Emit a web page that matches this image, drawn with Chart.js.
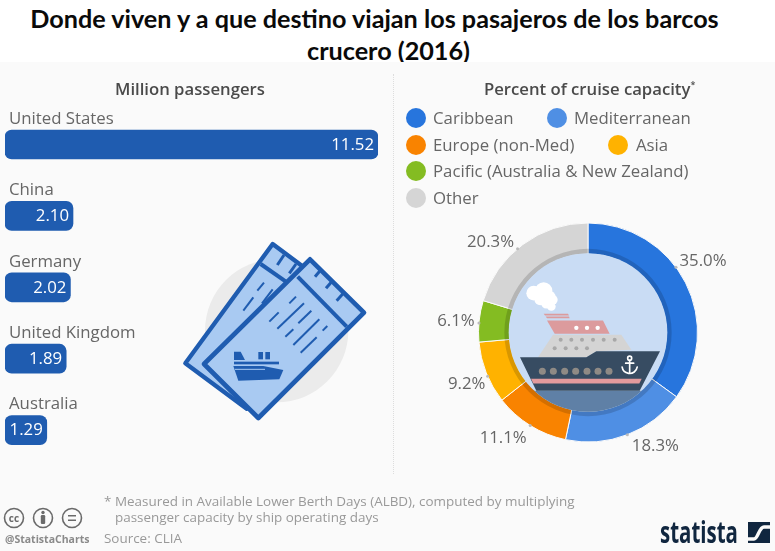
<!DOCTYPE html>
<html><head><meta charset="utf-8">
<script src="https://cdn.jsdelivr.net/npm/chart.js@4"></script>
<style>
html,body{margin:0;padding:0;width:775px;height:551px;overflow:hidden;background:#fafafa;font-family:"Open Sans",sans-serif}
#wrap{position:relative;width:775px;height:551px;overflow:hidden}
canvas{position:absolute;left:0;top:0}
.t{position:absolute;white-space:nowrap}
#title{left:0;top:0;width:775px;height:62px;background:#fff;overflow:hidden;font:700 25.2px/32px Lato,sans-serif;color:#0a0a0a}
#title div{position:absolute;width:775px;text-align:center}
.hd{font-weight:600;font-size:16.7px;color:#4a4a4a;top:77px}
.lg{font-size:16.8px;color:#666;line-height:20px}
.dot{position:absolute;width:20px;height:20px;border-radius:50%}
.fn{font-size:13.45px;color:#999;line-height:16px}
#sep{position:absolute;left:393px;top:74px;height:400px;border-left:1px dotted #ddd}
</style></head><body><div id="wrap">
<div id="sep"></div>
<canvas id="bars" width="775" height="551"></canvas>
<canvas id="donut" width="775" height="551"></canvas>
<div id="title" class="t"><div style="left:-13px;top:2px">Donde viven y a que destino viajan los pasajeros de los barcos</div><div style="left:1px;top:34px">crucero (2016)</div></div>
<div class="t hd" style="left:115px">Million passengers</div>
<div class="t hd" style="left:484px">Percent of cruise capacity<sup style="font-size:9px;line-height:0">*</sup></div>
<div id="legend"></div>
<div class="t fn" style="left:104px;top:493px">* Measured in Available Lower Berth Days (ALBD), computed by multiplying</div>
<div class="t fn" style="left:115px;top:509px">passenger capacity by ship operating days</div>
<div class="t fn" style="left:104px;top:530px">Source: CLIA</div>
<div class="t" style="left:5px;top:532px;font-size:10.5px;font-weight:700;color:#8a8a8a">@StatistaCharts</div>
<div class="t" id="logo" style="left:660px;top:513px;font-size:31px;line-height:36px;font-weight:700;color:#10263f;transform:scaleX(.66);transform-origin:left top">statista</div>
<svg class="t" style="left:0;top:505px" width="90" height="28" viewBox="0 0 90 28" fill="none" stroke="#6a6a6a" stroke-width="1.6">
<circle cx="14" cy="13" r="9.5"/><circle cx="43" cy="13" r="9.5"/><circle cx="72" cy="13" r="9.5"/>
<text x="14" y="16.5" font-size="10" font-weight="700" fill="#6a6a6a" stroke="none" text-anchor="middle" font-family="Open Sans">cc</text>
<circle cx="43" cy="7.5" r="1.7" fill="#6a6a6a" stroke="none"/><rect x="40.8" y="10" width="4.4" height="9" rx="1.2" fill="#6a6a6a" stroke="none"/>
<path d="M68 10.8h8M68 15.2h8"/></svg>
<svg class="t" style="left:748px;top:522px" width="22" height="21" viewBox="0 0 22 21"><rect width="22" height="21" fill="#10263f"/><path d="M-1 17 L6 17 C10 17 11 5 16 5 L23 5" fill="none" stroke="#fafafa" stroke-width="3.4"/></svg>
</div>
<script>
const countries = ["United States","China","Germany","United Kingdom","Australia"];
const passengers = [11.52,2.10,2.02,1.89,1.29];
const regions = ["Caribbean","Mediterranean","Europe (non-Med)","Asia","Pacific (Australia & New Zealand)","Other"];
const capacity = [35.0,18.3,11.1,9.2,6.1,20.3];
const regionColors = ["#2775dd","#4f8fe4","#f98300","#ffb200","#84bc22","#d5d5d5"];
const barColor = "#1f5cb0";

// legend placement: [dot centre x, dot centre y, text left]
const legendPlace = [[416,118,433],[557,118,574],[416,145,433],[618,145,636],[416,171,433],[416,198,433]];
// pie-label placement relative to the leader dot
const labelAngleNudge = [-9.5,0,0,-2,-1,-3.5];
const labelOffset = [[27,-6],[28,12],[-27,13],[-21,8],[-23,-2],[-27,-6]];

const legendEl = document.getElementById('legend');
regions.forEach((r,i)=>{
  const [x,y,tx]=legendPlace[i];
  const d=document.createElement('div');d.className='dot';
  d.style.cssText=`left:${x-10}px;top:${y-10}px;background:${regionColors[i]}`;
  const t=document.createElement('div');t.className='t lg';t.textContent=r;
  t.style.cssText=`left:${tx}px;top:${y-10}px`;
  legendEl.append(d,t);
});

function poly(c,pts,fill,stroke,lw){c.beginPath();pts.forEach((p,i)=>i?c.lineTo(p[0],p[1]):c.moveTo(p[0],p[1]));c.closePath();
  if(fill){c.fillStyle=fill;c.fill();} if(stroke){c.strokeStyle=stroke;c.lineWidth=lw;c.lineJoin='round';c.stroke();}}
function segs(c,list,col,lw){c.strokeStyle=col;c.lineWidth=lw;c.lineCap='butt';list.forEach(s=>{c.beginPath();c.moveTo(s[0],s[1]);c.lineTo(s[2],s[3]);c.stroke();});}
function circ(c,x,y,r,col){c.beginPath();c.arc(x,y,r,0,Math.PI*2);c.fillStyle=col;c.fill();}

function drawTickets(c){
  c.save();c.translate(0,60);c.scale(1/3,1/3);
  circ(c,830,812,215,'#ebebeb');
  const blue='#1f5cb0',pale='#a9caf2';
  poly(c,[[818,552],[1003,690],[740,1046],[556,910]],pale,blue,13);
  segs(c,[[782,612,862,668]],blue,12);
  segs(c,[[852,585,832,615],[888,612,868,640]],blue,9);
  segs(c,[[792,668,772,692],[760,712,730,752],[818,688,786,730]],blue,6);
  poly(c,[[930,598],[1092,758],[775,1074],[612,912]],pale,blue,14);
  segs(c,[[893,650,1040,800]],blue,12);
  segs(c,[[962,630,945,650],[995,665,978,685],[1030,700,1010,722]],blue,9);
  segs(c,[[868,730,888,710],[808,785,836,757],[832,806,912,730],[895,790,934,752],[856,830,880,808],[880,855,958,778],[902,878,950,832],[968,812,982,798]],blue,6);
  // ship icon
  poly(c,[[702,875],[722,875],[735,900],[702,900]],blue);
  c.fillStyle=blue;c.fillRect(775,876,14,22);c.fillRect(796,876,14,22);
  c.fillRect(702,905,135,8);
  poly(c,[[700,918],[790,918],[850,930],[838,958],[715,962]],blue);
  segs(c,[[705,928,795,928]],pale,3);
  c.restore();
}
function drawShip(c,cx,cy){
  const ox=595,oy=368;
  c.save();c.translate(cx,cy);c.scale(1/3,1/3);c.translate(-ox,-oy);
  // shaded inner rim
  c.beginPath();c.arc(ox,oy,251,0,Math.PI*2);c.arc(ox,oy,237,0,Math.PI*2,true);c.fillStyle='rgba(0,0,0,.15)';c.fill();
  circ(c,ox,oy,238,'#c9dcf4');
  c.save();c.beginPath();c.arc(ox,oy,238,0,Math.PI*2);c.clip();
  c.fillStyle='#5f80a6';c.fillRect(300,543,600,100);
  // cloud
  [[432,250,22],[462,243,26],[478,262,20],[452,268,18],[490,270,14],[485,290,13],[470,280,16]].forEach(a=>circ(c,a[0],a[1],a[2],'#fff'));
  // funnel
  poly(c,[[462,312],[535,312],[538,317],[466,317]],'#dc9b9d');
  poly(c,[[468,320],[538,320],[540,325],[472,325]],'#dc9b9d');
  poly(c,[[472,332],[640,332],[660,372],[495,372]],'#dc9b9d');
  [560,592,624].forEach(x=>circ(c,x,354,6.5,'#fff'));
  // superstructure
  poly(c,[[445,442],[490,375],[695,375],[725,420],[620,424],[590,442]],'#d4d4d4');
  [513,545,577,610,642,675].forEach(x=>circ(c,x,390,6,'#a8a8a8'));
  [495,528,560,592].forEach(x=>circ(c,x,415,6,'#a8a8a8'));
  // hull
  poly(c,[[391,442],[590,442],[620,424],[811,424],[750,543],[440,543]],'#374c62');
  poly(c,[[424,507],[756,507],[749,521],[431,521]],'#e39a9c');
  [458,491,525,558,592,625,658].forEach(x=>circ(c,x,484,10.5,'#8f8a85'));
  // anchor
  c.strokeStyle='#fff';c.lineWidth=5;c.lineCap='round';
  c.beginPath();c.arc(720,445,6,0,Math.PI*2);c.moveTo(720,451);c.lineTo(720,490);c.moveTo(708,460);c.lineTo(732,460);c.stroke();
  c.beginPath();c.arc(720,468,23,0.15,Math.PI-0.15);c.stroke();
  c.restore();c.restore();
}

const hLabels={id:'hLabels',afterDatasetsDraw(ch){
  const c=ch.ctx,y=ch.scales.y,meta=ch.getDatasetMeta(0);
  c.save();c.textBaseline='middle';c.font='16.8px "Open Sans"';
  countries.forEach((n,i)=>{
    const py=y.getPixelForValue(i);
    c.fillStyle='#666';c.textAlign='left';c.fillText(n,9,py-25.5);
    c.fillStyle='#fff';c.textAlign='right';c.fillText(passengers[i].toFixed(2),meta.data[i].x-4,py+0.5);
  });
  c.restore();
},beforeDatasetsDraw(ch){drawTickets(ch.ctx);}};

new Chart(document.getElementById('bars'),{type:'bar',
  data:{labels:countries,datasets:[{data:passengers,backgroundColor:barColor,borderRadius:7,borderSkipped:false,barThickness:29}]},
  options:{indexAxis:'y',responsive:false,animation:false,devicePixelRatio:1,
    layout:{padding:{left:5,right:397,top:108.8,bottom:85.2}},
    plugins:{legend:{display:false},tooltip:{enabled:false}},
    scales:{x:{display:false,min:0,max:passengers[0]},y:{display:false}}},
  plugins:[hLabels]});

const pieLabels={id:'pieLabels',afterDatasetsDraw(ch){
  const c=ch.ctx,arc=ch.getDatasetMeta(0).data[0];
  drawShip(c,arc.x,arc.y);
  const total=capacity.reduce((a,b)=>a+b,0);let acc=0;
  c.save();c.font='16.8px "Open Sans"';c.textAlign='center';c.textBaseline='middle';
  capacity.forEach((v,i)=>{
    const a=((acc+v/2)/total*360+labelAngleNudge[i]-90)*Math.PI/180;acc+=v;
    const dx=arc.x+arc.outerRadius*Math.cos(a),dy=arc.y+arc.outerRadius*Math.sin(a);
    circ(c,dx,dy,1.5,'#bbb');
    c.fillStyle='#666';c.fillText(v.toFixed(1)+'%',dx+labelOffset[i][0],dy+labelOffset[i][1]);
  });
  c.restore();
}};

new Chart(document.getElementById('donut'),{type:'doughnut',
  data:{labels:regions,datasets:[{data:capacity,backgroundColor:regionColors,borderColor:'#fafafa',borderWidth:1}]},
  options:{responsive:false,animation:false,devicePixelRatio:1,cutout:'71.5%',
    layout:{padding:{left:478,right:77,top:222.5,bottom:108.5}},
    plugins:{legend:{display:false},tooltip:{enabled:false}}},
  plugins:[pieLabels]});
</script></body></html>
